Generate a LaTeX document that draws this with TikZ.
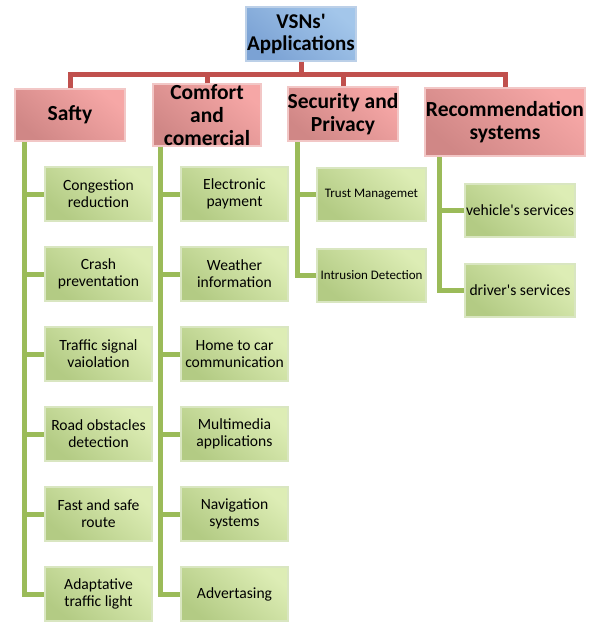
\documentclass[tikz,border=0pt]{standalone}
\usepackage{fontspec}
\setmainfont{Carlito}
\definecolor{redline}{HTML}{C0504D}
\definecolor{greenline}{HTML}{9BBB59}
\definecolor{leafborder}{HTML}{D9E6C1}
\definecolor{leafdark}{HTML}{B3CB84}
\definecolor{leaflight}{HTML}{DDEDB5}
\definecolor{catborder}{HTML}{F2C7C6}
\definecolor{catdark}{HTML}{D08786}
\definecolor{catlight}{HTML}{F6A7A6}
\definecolor{topborder}{HTML}{BCD0E8}
\definecolor{topdark}{HTML}{7BA2D4}
\definecolor{toplight}{HTML}{A3C6EA}
\tikzset{
  box/.style={rectangle, line width=2pt, align=center, inner sep=0pt, shading angle=-40},
  topbox/.style={box, draw=topborder, top color=toplight, bottom color=topdark, shading angle=-40,
    font=\fontsize{21}{22}\selectfont\bfseries},
  catbox/.style={box, draw=catborder, top color=catlight, bottom color=catdark, shading angle=-40,
    font=\fontsize{21.5}{23}\selectfont\bfseries},
  leafbox/.style={box, draw=leafborder, top color=leaflight, bottom color=leafdark, shading angle=-40,
    font=\fontsize{15.6}{17}\selectfont},
  redconn/.style={draw=redline, line width=5pt},
  greenconn/.style={draw=greenline, line width=5pt},
}
\begin{document}
\begin{tikzpicture}[x=1pt,y=-1pt]
\useasboundingbox (0,0) rectangle (593,623);
% top
\node[topbox, minimum width=110pt, minimum height=54pt] (vsn) at (301,34) {VSNs\textquotesingle\\Applications};
% categories
\node[catbox, minimum width=110pt, minimum height=52pt] (saf) at (70,115) {Safty};
\node[catbox, minimum width=108pt, minimum height=52pt] (com) at (207,115) {Comfort\\and\\comercial};
\node[catbox, minimum width=110pt, minimum height=54pt] (sec) at (343,114) {Security and\\Privacy};
\node[catbox, minimum width=160pt, minimum height=68pt] (rec) at (505,122) {Recommendation\\systems};
% red connectors
\coordinate (bar) at (301,75);
\draw[redconn] (vsn.south) -- (bar);
\draw[redconn] (saf.north) |- (rec.north |- bar) -- (rec.north);
\draw[redconn] (com.north) -- (com.north |- bar);
\draw[redconn] (sec.north) -- (sec.north |- bar);
% Safty and Comfort leaves
\begin{scope}[every node/.style={leafbox, minimum width=107pt, minimum height=54pt}]
\node (s1) at (98.5,194) {Congestion\\reduction};
\node (s2) at (98.5,274) {Crash\\preventation};
\node (s3) at (98.5,354) {Traffic signal\\vaiolation};
\node (s4) at (98.5,434) {Road obstacles\\detection};
\node (s5) at (98.5,514) {Fast and safe\\route};
\node (s6) at (98.5,594) {Adaptative\\traffic light};
\node (c1) at (234.5,194) {Electronic\\payment};
\node (c2) at (234.5,274) {Weather\\information};
\node (c3) at (234.5,354) {Home to car\\communication};
\node (c4) at (234.5,434) {Multimedia\\applications};
\node (c5) at (234.5,514) {Navigation\\systems};
\node (c6) at (234.5,594) {Advertasing};
\end{scope}
% Security and Recommendation leaves
\begin{scope}[every node/.style={leafbox, minimum width=109pt, minimum height=53pt}]
\node[font=\fontsize{13}{14}\selectfont] (p1) at (371.5,194.5) {Trust Managemet};
\node[font=\fontsize{13}{14}\selectfont] (p2) at (371.5,275) {Intrusion Detection};
\node[font=\fontsize{15.6}{17}\selectfont, minimum width=110pt] (r1) at (520,210) {vehicle\textquotesingle s services};
\node[font=\fontsize{15.6}{17}\selectfont, minimum width=110pt] (r2) at (520,290) {driver\textquotesingle s services};
\end{scope}
% green trunks
\coordinate (st) at (24,0);
\coordinate (ct) at (160,0);
\coordinate (pt) at (297,0);
\coordinate (rt) at (439,0);
\draw[greenconn] (saf.south -| st) |- (s6.west);
\foreach \n in {s1,s2,s3,s4,s5} \draw[greenconn] (\n.west) -- (\n.west -| st);
\draw[greenconn] (com.south -| ct) |- (c6.west);
\foreach \n in {c1,c2,c3,c4,c5} \draw[greenconn] (\n.west) -- (\n.west -| ct);
\draw[greenconn] (sec.south -| pt) |- (p2.west);
\draw[greenconn] (p1.west) -- (p1.west -| pt);
\draw[greenconn] (rec.south -| rt) |- (r2.west);
\draw[greenconn] (r1.west) -- (r1.west -| rt);
\end{tikzpicture}
\end{document}
